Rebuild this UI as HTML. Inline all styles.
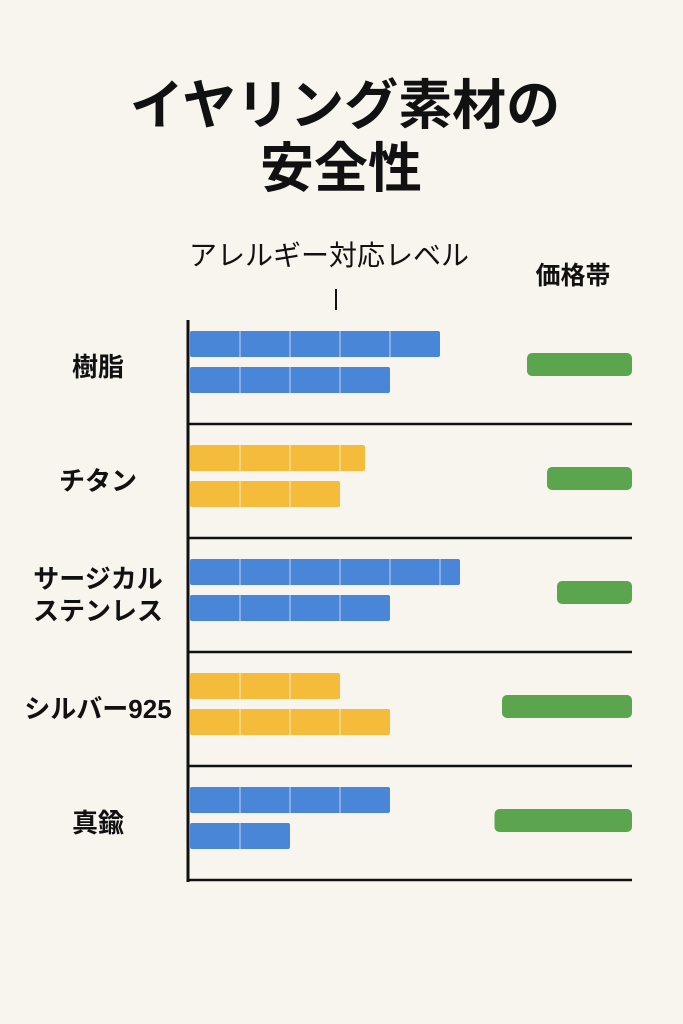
<!DOCTYPE html>
<html><head><meta charset="utf-8"><style>
body{margin:0;background:#f8f5ef;}
svg{display:block;font-family:"Liberation Sans","Noto Sans CJK JP",sans-serif;}
</style></head><body>
<svg id="chart" width="683" height="1024" viewBox="0 0 683 1024">
<rect width="683" height="1024" fill="#f8f5ef"/>
<text x="345" y="124" text-anchor="middle" font-size="54" font-weight="bold" fill="#111">イヤリング素材の</text>
<text x="341" y="187" text-anchor="middle" font-size="54" font-weight="bold" fill="#111">安全性</text>
<text x="329" y="265" text-anchor="middle" font-size="28" fill="#111">アレルギー対応レベル</text>
<line x1="336" y1="289" x2="336" y2="310" stroke="#111" stroke-width="2"/>
<text x="573" y="284" text-anchor="middle" font-size="25" font-weight="bold" fill="#111">価格帯</text>
<g id="marks"></g>
</svg>
<script>
const categories = ["樹脂","チタン","サージカル\nステンレス","シルバー925","真鍮"];
const allergyA = [5, 3.5, 5.4, 3, 4];
const allergyB = [4, 3, 4, 4, 2];
const priceRange = [2.1, 1.7, 1.5, 2.6, 2.75];
const colors = ["#4a86d8","#f5bb3b","#4a86d8","#f5bb3b","#4a86d8"];

const NS="http://www.w3.org/2000/svg";
const g=document.getElementById('marks');
const x0=190, unit=50, rowTop=310, rowH=114, priceEnd=632;
const xScale=v=>unit*v;
function mk(t,a){const e=document.createElementNS(NS,t);for(const k in a)e.setAttribute(k,a[k]);g.appendChild(e);return e;}
const axis=mk('line',{x1:188,y1:320,x2:188,y2:882,stroke:'#111','stroke-width':3});


categories.forEach((c,i)=>{
  const y=rowTop+i*rowH;
  [allergyA[i],allergyB[i]].forEach((v,j)=>{
    const by=y+21+j*36;
    const r=mk('rect',{x:x0,y:by,width:xScale(v),height:26,fill:colors[i],rx:2});
    
    
    for(let k=1;k<v;k++){
      const l=mk('line',{x1:x0+xScale(k),y1:by,x2:x0+xScale(k),y2:by+26,stroke:'rgba(255,255,255,0.45)','stroke-width':1.5});
      
      
    }
  });
  const pw=priceRange[i]*50;
  const p=mk('rect',{x:priceEnd-pw,y:y+43,width:pw,height:23,rx:5,fill:'#5aa54e'});
  
  
  const lines=c.split('\n');
  const cy=y+57;
  lines.forEach((s,k)=>{
    const t=mk('text',{x:98,y:cy+9+(k-(lines.length-1)/2)*32,'text-anchor':'middle','font-size':26,'font-weight':'bold',fill:'#111'});
    t.textContent=s;
    
    
  });
  const sep=mk('line',{x1:188,y1:y+rowH,x2:632,y2:y+rowH,stroke:'#111','stroke-width':2.5});
  
  
});
</script>
</body></html>
